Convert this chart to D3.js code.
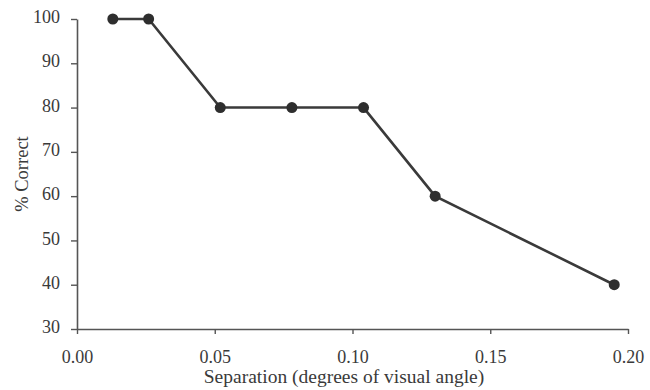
<!DOCTYPE html>
<html><head><meta charset="utf-8">
<script src="https://cdn.jsdelivr.net/npm/d3@7"></script>
<style>body{margin:0;background:#fff}svg{display:block}</style>
</head><body>
<svg id="c" width="650" height="390"></svg>
<script>
const separation = [0.013, 0.026, 0.052, 0.078, 0.104, 0.130, 0.195];
const pctCorrect = [100, 100, 80, 80, 80, 60, 40];
const xTicks = [0.00, 0.05, 0.10, 0.15, 0.20];
const yTicks = [30, 40, 50, 60, 70, 80, 90, 100];
const xTitle = "Separation (degrees of visual angle)";
const yTitle = "% Correct";

const svg = d3.select("#c");
const x = d3.scaleLinear().domain([0, 0.20]).range([77, 628]);
const y = d3.scaleLinear().domain([30, 100]).range([329, 19]);
const font = "'Liberation Serif', 'Times New Roman', serif";
const axisCol = "#555";
const textCol = "#3a3a3a";

const xa = svg.append("g").attr("transform", "translate(0,329)")
  .call(d3.axisBottom(x).tickValues(xTicks).tickFormat(d3.format(".2f")).tickSizeInner(5).tickSizeOuter(0).tickPadding(16));
const ya = svg.append("g").attr("transform", "translate(77,0)")
  .call(d3.axisLeft(y).tickValues(yTicks).tickFormat(d3.format("d")).tickSizeInner(6).tickSizeOuter(0).tickPadding(11));
[xa, ya].forEach(g => {
  g.attr("font-family", null).attr("font-size", null);
  g.select(".domain").attr("stroke", axisCol).attr("stroke-width", 1.6);
  g.selectAll(".tick line").attr("stroke", axisCol).attr("stroke-width", 1.4);
  g.selectAll(".tick text").attr("fill", textCol).style("font-family", font).style("font-size", "18px");
});
ya.selectAll(".tick text").attr("dy", "0.2em");

const pts = separation.map((s, i) => [s, pctCorrect[i]]);
svg.append("path").datum(pts)
  .attr("fill", "none").attr("stroke", "#3a3a3a").attr("stroke-width", 2.6)
  .attr("d", d3.line().x(d => x(d[0])).y(d => y(d[1])));
svg.append("g").selectAll("circle").data(pts).join("circle")
  .attr("cx", d => x(d[0])).attr("cy", d => y(d[1])).attr("r", 5.5).attr("fill", "#2e2e2e");

svg.append("text").attr("x", 344).attr("y", 383).attr("text-anchor", "middle")
  .attr("fill", textCol).style("font-family", font).style("font-size", "19.5px").text(xTitle);
svg.append("text").attr("transform", "translate(28,174) rotate(-90)").attr("text-anchor", "middle")
  .attr("fill", textCol).style("font-family", font).style("font-size", "18.5px").text(yTitle);
</script>
</body></html>
